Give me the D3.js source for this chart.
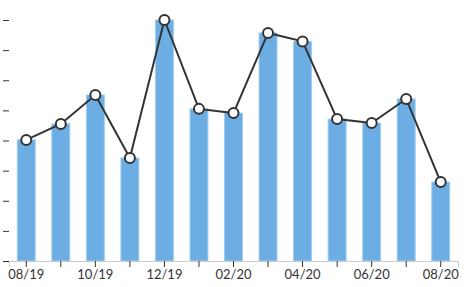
<!DOCTYPE html>
<html>
<head>
<meta charset="utf-8">
<script src="https://cdn.jsdelivr.net/npm/d3@7"></script>
<style>
  body { margin: 0; background: #fff; }
  text { font-family: Lato, "Open Sans", sans-serif; }
</style>
</head>
<body>
<script>
var months = ["08/19", "09/19", "10/19", "11/19", "12/19", "01/20", "02/20",
              "03/20", "04/20", "05/20", "06/20", "07/20", "08/20"];
var values = [40.2, 45.5, 55.1, 34.2, 80, 50.5, 49.1, 75.7, 72.9, 47.1, 45.8, 53.8, 26.2];
var yTicks = [0, 10, 20, 30, 40, 50, 60, 70, 80];

var width = 469, height = 287;
var margin = {top: 20, right: 11, bottom: 26, left: 9};

var svg = d3.select("body").append("svg")
    .attr("width", width)
    .attr("height", height);

var x = d3.scaleBand()
    .domain(months)
    .range([margin.left, width - margin.right])
    .paddingInner(0.48)
    .paddingOuter(0.24);

var y = d3.scaleLinear()
    .domain([0, 80])
    .range([height - margin.bottom, margin.top]);

// y ticks only, no labels
var yAxis = svg.append("g")
    .attr("transform", "translate(" + margin.left + ",0)")
    .call(d3.axisLeft(y).tickValues(yTicks).tickSize(6).tickFormat(""));
yAxis.select(".domain").remove();
yAxis.selectAll("line").attr("stroke", "#333");

svg.append("g")
    .selectAll("rect")
    .data(values)
    .enter().append("rect")
    .attr("x", function(d, i) { return x(months[i]); })
    .attr("y", function(d) { return y(d); })
    .attr("width", x.bandwidth())
    .attr("height", function(d) { return y(0) - y(d); })
    .attr("fill", "#6caee3")
    .attr("stroke", "#a3cdef")
    .attr("stroke-width", 1);

var xAxis = svg.append("g")
    .attr("transform", "translate(0," + y(0) + ")")
    .call(d3.axisBottom(x).tickSize(6)
        .tickFormat(function(d, i) { return i % 2 == 0 ? d : ""; }));
xAxis.select(".domain").attr("stroke", "#ccc");
xAxis.selectAll(".tick line").attr("stroke", "#333");
xAxis.selectAll("text")
    .attr("fill", "#333")
    .style("font-size", "13px");

var line = d3.line()
    .x(function(d, i) { return x(months[i]) + x.bandwidth() / 2; })
    .y(function(d) { return y(d); });

svg.append("path")
    .datum(values)
    .attr("d", line)
    .attr("fill", "none")
    .attr("stroke", "#333")
    .attr("stroke-width", 2);

svg.append("g")
    .selectAll("circle")
    .data(values)
    .enter().append("circle")
    .attr("cx", function(d, i) { return x(months[i]) + x.bandwidth() / 2; })
    .attr("cy", function(d) { return y(d); })
    .attr("r", 5)
    .attr("fill", "#fff")
    .attr("stroke", "#333")
    .attr("stroke-width", 2);
</script>
</body>
</html>
